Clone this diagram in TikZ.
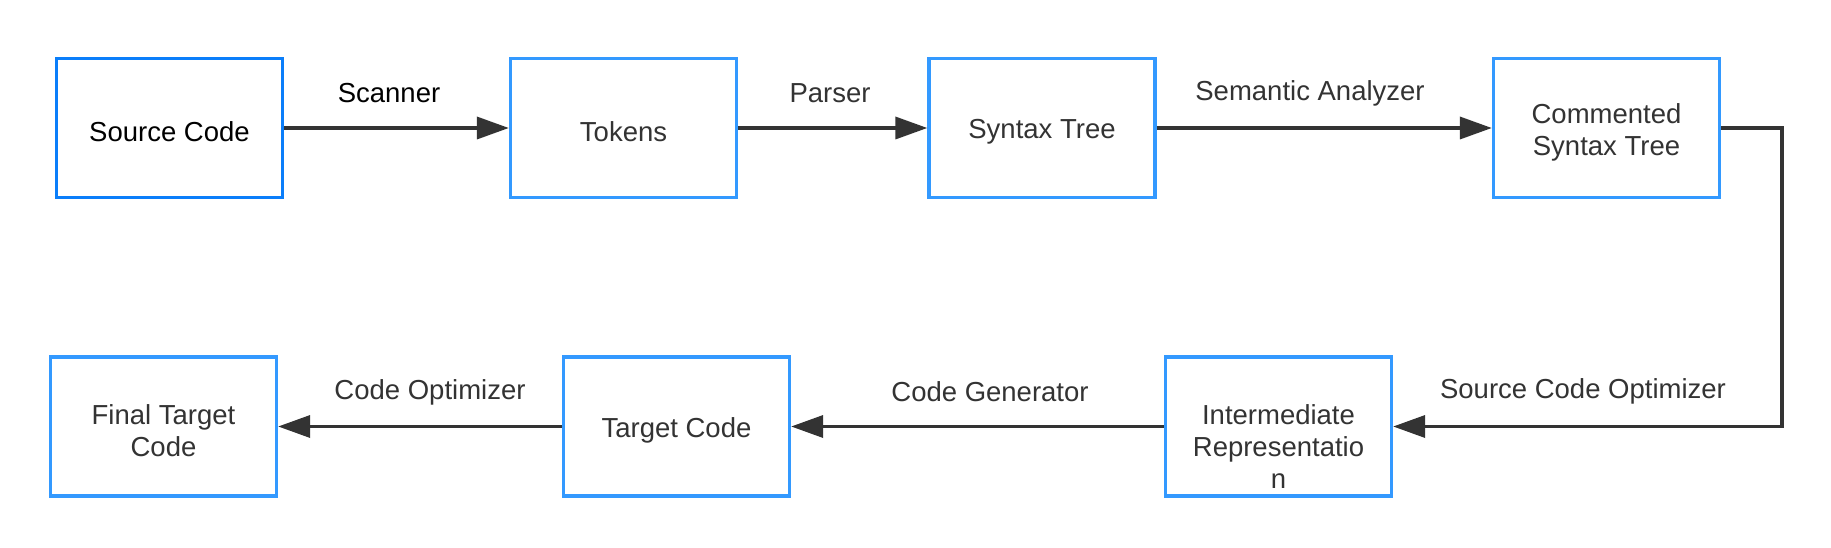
\documentclass[tikz,border=0pt]{standalone}
\usepackage{fontspec}
\setmainfont{Liberation Sans}
\usetikzlibrary{arrows.meta}
\definecolor{boxblue}{HTML}{3399FF}
\definecolor{srcblue}{HTML}{0A7EFA}
\definecolor{ink}{HTML}{333333}
\tikzset{
  stagebox/.style={draw=boxblue, line width=3.3pt, fill=white, minimum width=226pt, minimum height=139pt, inner sep=0pt},
  boxtext/.style={text=ink, align=center, inner sep=0pt, font=\fontsize{27.5}{32}\selectfont},
  flow/.style={draw=ink, line width=3.5pt, -{Triangle[length=32pt,width=22pt]}},
  flowlabel/.style={text=ink, font=\fontsize{27.5}{32}\selectfont, inner sep=0pt},
}
\begin{document}
\begin{tikzpicture}[x=1pt,y=-1pt]
\useasboundingbox (0,0) rectangle (1831,548);
\fill[white] (0,0) rectangle (1831,548);
% top row
\node[stagebox, draw=srcblue] (src) at (169.5,128) {};
\node[stagebox] (tok) at (623.5,128) {};
\node[stagebox] (syn) at (1042,128) {};
\node[stagebox] (com) at (1606.5,128) {};
% bottom row
\node[stagebox] (fin) at (163.5,426.5) {};
\node[stagebox] (tgt) at (676.5,426.5) {};
\node[stagebox] (ir) at (1278.5,426.5) {};
% box texts
\node[boxtext, text=black] (srctxt) at (169.5,132) {Source Code};
\node[boxtext] (toktxt) at (623.5,132) {Tokens};
\node[boxtext] (syntxt) at (1042,132) {Syntax Tree};
\node[boxtext] (comtxt) at (1606.5,132.5) {Commented\\Syntax Tree};
\node[boxtext] (fintxt) at (163.5,431) {Final Target\\Code};
\node[boxtext] (tgttxt) at (676.5,430) {Target Code};
\node[boxtext] (irtxt) at (1278.5,447) {Intermediate\\Representatio\\n};
% connectors
\draw[flow] (src.east) -- (tok.west);
\draw[flow] (tok.east) -- (syn.west);
\draw[flow] (syn.east) -- (com.west);
\coordinate (turn) at (1782,128);
\draw[flow] (com.east) -- (turn) |- (ir.east);
\draw[flow] (ir.west) -- (tgt.east);
\draw[flow] (tgt.west) -- (fin.east);
% labels
\node[flowlabel, text=black] (lscan) at (389,93) {Scanner};
\node[flowlabel] (lpars) at (830,93) {Parser};
\node[flowlabel] (lsem) at (1310,93) {Semantic Analyzer};
\node[flowlabel] (lsco) at (1583,391) {Source Code Optimizer};
\node[flowlabel] (lgen) at (990,392) {Code Generator};
\node[flowlabel] (lopt) at (430,392) {Code Optimizer};
\end{tikzpicture}
\end{document}
